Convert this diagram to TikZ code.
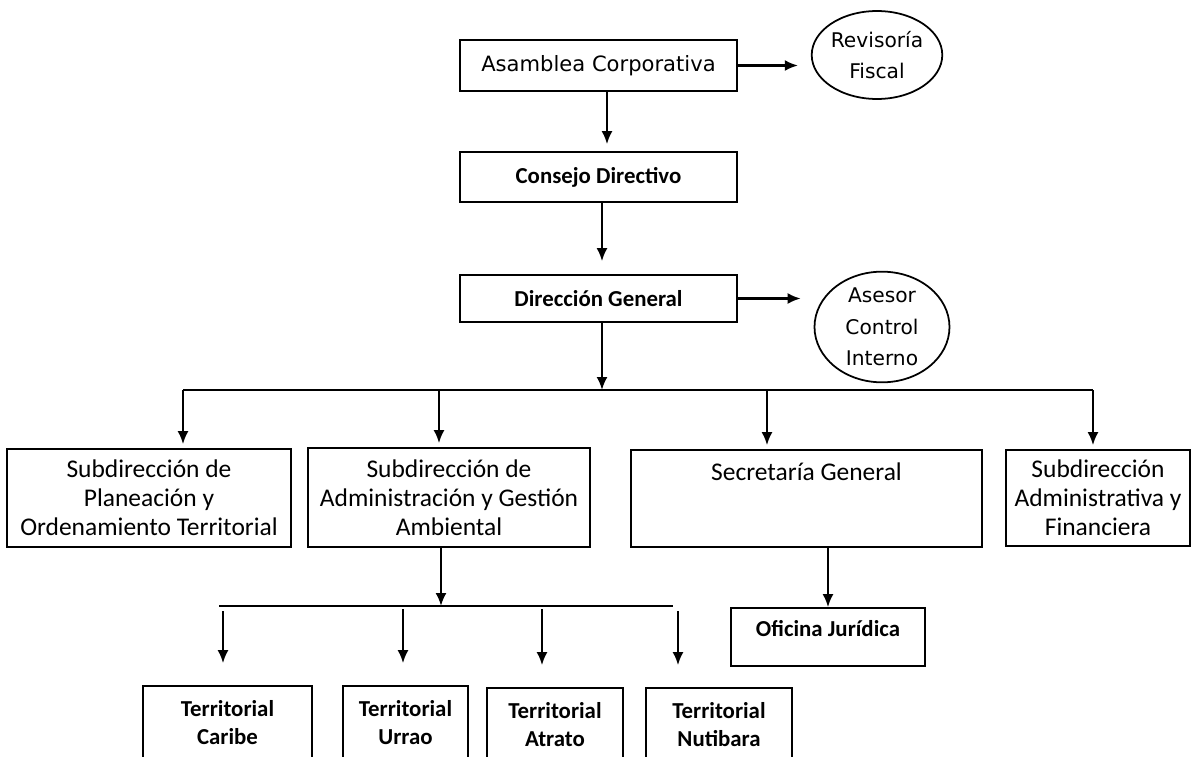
\documentclass[tikz,border=0pt]{standalone}
\usepackage{fontspec}
\setmainfont{Carlito}
\newfontfamily\verdana{DejaVu Sans}
\usetikzlibrary{shapes.geometric,arrows.meta}

\begin{document}
\begin{tikzpicture}[x=0.02cm,y=-0.02cm,
  box/.style={draw,line width=1pt,inner sep=0pt,align=center,
    font=\fontsize{14.5}{16.5}\selectfont},
  bbox/.style={box,font=\fontsize{13}{16}\selectfont\bfseries},
  oval/.style={draw,ellipse,line width=1pt,inner sep=0pt,align=center,
    font=\verdana\fontsize{11.5}{17.5}\selectfont},
  arr/.style={-{Latex[length=2.6mm,width=2.2mm]},line width=1.2pt},
  bar/.style={line width=0.9pt}]
  \useasboundingbox (0,0) rectangle (1191,757);

  % top of the chart
  \node[box,font=\verdana\fontsize{12}{14}\selectfont,minimum width=5.54cm,minimum height=1.02cm]
    (asamblea) at (598.5,65.5) {Asamblea Corporativa};
  \node[oval,minimum width=2.5cm,minimum height=1.76cm] (revisoria) at (877,55) {Revisoría\\Fiscal};
  \node[bbox,minimum width=5.54cm,minimum height=1cm] (consejo) at (598.5,177) {Consejo Directivo};
  \node[bbox,minimum width=5.54cm,minimum height=0.94cm] (direccion) at (598.5,298.5) {Dirección General};
  \node[oval,font=\verdana\fontsize{11.5}{18}\selectfont,minimum width=2.7cm,minimum height=2.08cm]
    (asesor) at (882,327) {Asesor\\Control\\Interno};

  % second level
  \node[box,minimum width=5.68cm,minimum height=1.96cm] (planeacion) at (149,498)
    {Subdirección de\\Planeación y\\Ordenamiento Territorial};
  \node[box,minimum width=5.64cm,minimum height=1.98cm] (ambiental) at (449,497.5)
    {Subdirección de\\Administración y Gestión\\Ambiental};
  \node[box,minimum width=7.02cm,text height=0.6cm,text depth=1.34cm] (secretaria) at (806.5,498.5)
    {Secretaría General};
  \node[box,minimum width=3.68cm,minimum height=1.92cm] (financiera) at (1098,498)
    {Subdirección\\Administrativa y\\Financiera};
  \node[bbox,minimum width=3.88cm,text height=0.56cm,text depth=0.6cm] (oficina) at (828,637)
    {Oficina Jurídica};

  % territoriales
  \node[bbox,minimum width=3.38cm,minimum height=1.48cm] (caribe) at (227.5,723) {Territorial\\Caribe};
  \node[bbox,minimum width=2.5cm,minimum height=1.48cm] (urrao) at (405.5,723) {Territorial\\Urrao};
  \node[bbox,minimum width=2.72cm,minimum height=1.48cm] (atrato) at (555,725) {Territorial\\Atrato};
  \node[bbox,minimum width=2.92cm,minimum height=1.48cm] (nutibara) at (719,725) {Territorial\\Nutibara};

  \coordinate (b1l) at (183,390);
  \coordinate (b1a) at (439,390);
  \coordinate (b1m) at (602,390);
  \coordinate (b1s) at (767,390);
  \coordinate (b1r) at (1093,390);
  \coordinate (b2l) at (219,606);
  \coordinate (b2m) at (441,606);
  \coordinate (b2r) at (673,606);
  \coordinate (t1) at (223,611);
  \coordinate (t2) at (403,609);
  \coordinate (t3) at (542,609);
  \coordinate (t4) at (678,611);

  \draw[arr,shorten >=0.26cm] (asamblea.east) -- (asamblea.east -| revisoria.west);
  \draw[arr,shorten >=0.14cm] ([xshift=0.17cm]asamblea.south) -- ([xshift=0.17cm]consejo.north);
  \draw[arr,shorten >=0.26cm] ([xshift=0.07cm]consejo.south) -- ([xshift=0.07cm]direccion.north);
  \draw[arr,shorten >=0.26cm] (direccion.east) -- (direccion.east -| asesor.west);
  \draw[arr] (direccion.south -| b1m) -- (b1m);

  \draw[bar] (b1l) -- (b1r);
  \foreach \c/\n in {b1l/planeacion,b1a/ambiental,b1s/secretaria,b1r/financiera}
    \draw[arr,shorten >=0.08cm] (\c) -- (\c |- \n.north);

  \draw[arr] (ambiental.south -| b2m) -- (b2m);
  \draw[bar] (b2l) -- (b2r);
  \foreach \c/\n in {t1/caribe,t2/urrao,t3/atrato,t4/nutibara}
    \draw[arr,shorten >=0.44cm] (\c) -- (\c |- \n.north);

  \draw[arr] (secretaria.south -| oficina.north) -- (oficina.north);
\end{tikzpicture}
\end{document}
